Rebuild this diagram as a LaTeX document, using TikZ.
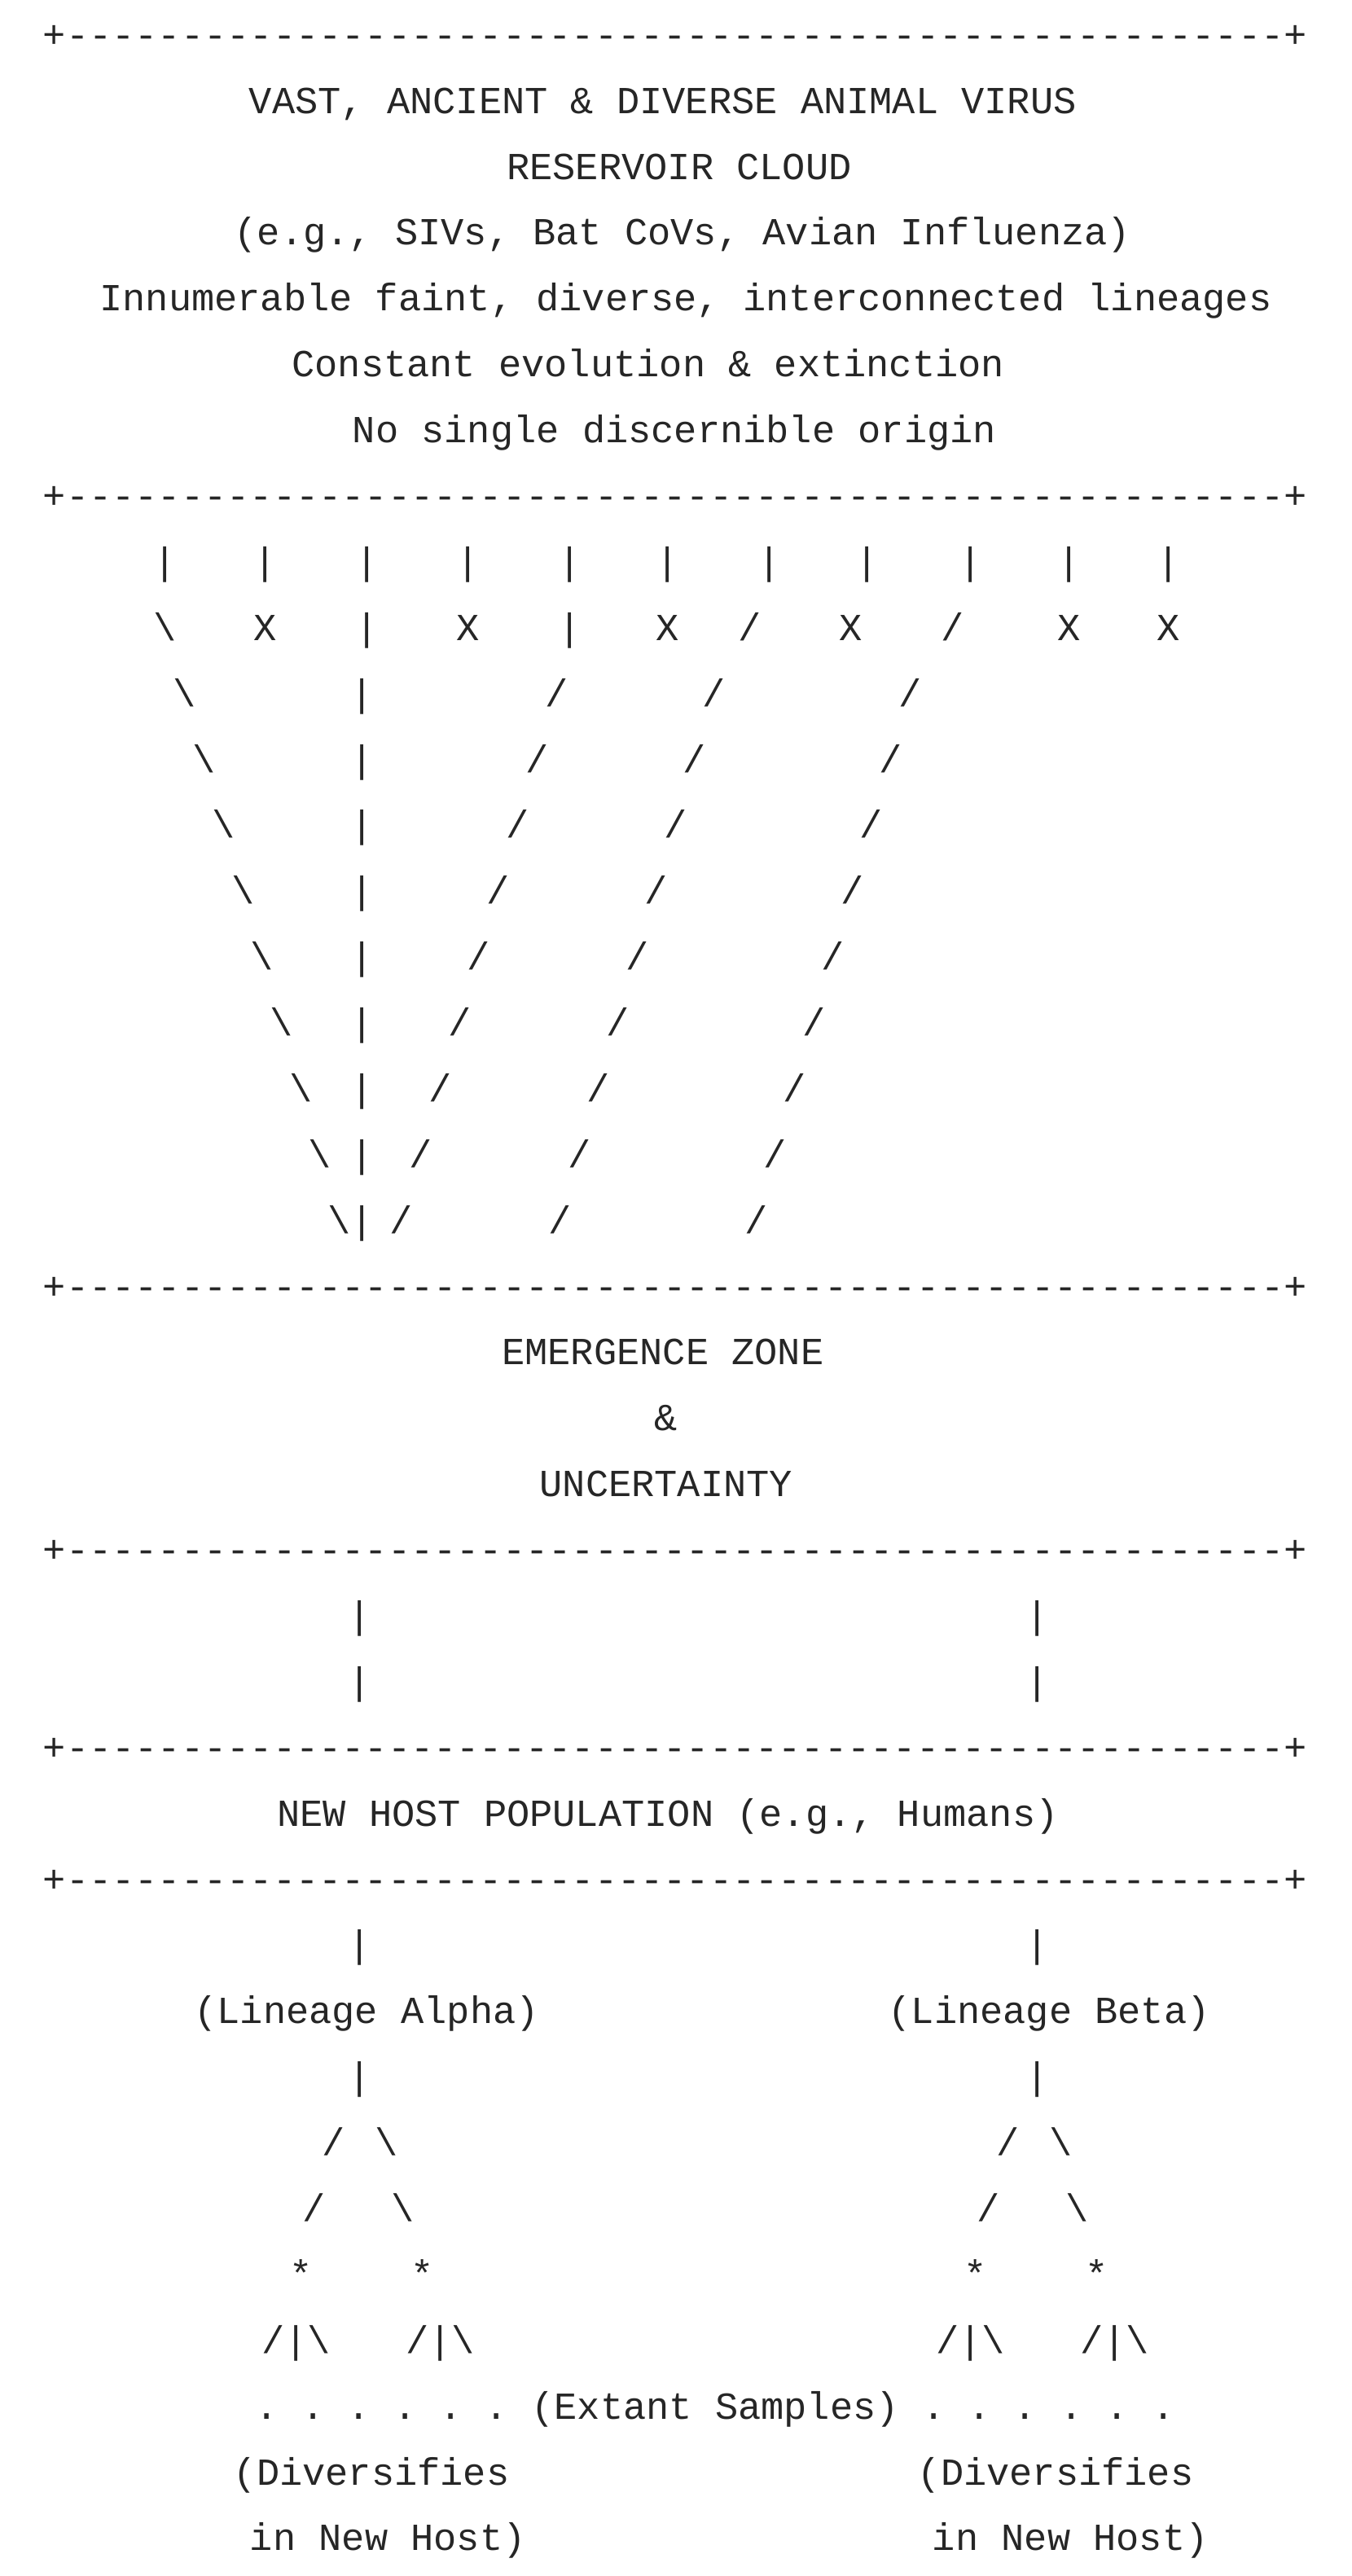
\documentclass[tikz,border=0pt]{standalone}
\usepackage{fontspec}
\newfontfamily\mono[Ligatures=TeXOff]{Liberation Mono}
\def\dashes{-----------------------------------------------------}
\tikzset{
  gl/.style={anchor=base,inner sep=0pt,outer sep=0pt,font=\mono\fontsize{23.4}{28}\selectfont\frenchspacing,text=black!85},
}
\newcommand\rowy[1]{{22+40.25*(#1)+7}}
\begin{document}
\begin{tikzpicture}[x=1pt,y=-1pt]
\useasboundingbox[fill=white] (0,0) rectangle (826,1574);
% borders
\foreach \r/\n in {0/b0,7/b1,19/b2,23/b3,26/b4,28/b5}
  \node[gl] (\n) at (412.5,\rowy{\r}) {+\dashes+};
% header texts
\node[gl] (t1) at (405,\rowy{1}) {VAST, ANCIENT \& DIVERSE ANIMAL VIRUS};
\node[gl] (t2) at (415,\rowy{2}) {RESERVOIR CLOUD};
\node[gl] (t3) at (417,\rowy{3}) {(e.g., SIVs, Bat CoVs, Avian Influenza)};
\node[gl] (t4) at (419,\rowy{4}) {Innumerable faint, diverse, interconnected lineages};
\node[gl] (t5) at (396,\rowy{5}) {Constant evolution \& extinction};
\node[gl] (t6) at (412,\rowy{6}) {No single discernible origin};
% row 8 pipes
\foreach \x in {101,162,224,286,348,408,470,530,593,653,714}
  \node[gl] at (\x,\rowy{8}) {|};
% row 9
\node[gl] at (101,\rowy{9}) {\textbackslash};
\foreach \x in {162,286,408,520,653,714}
  \node[gl] at (\x,\rowy{9}) {X};
\foreach \x in {224,348}
  \node[gl] at (\x,\rowy{9}) {|};
\foreach \x in {458,582}
  \node[gl] at (\x,\rowy{9}) {/};
% rows 10-18
\foreach \k in {0,...,8}{
  \node[gl] at ({113+11.8*\k},\rowy{10+\k}) {\textbackslash};
  \node[gl] at (221,\rowy{10+\k}) {|};
  \node[gl] at ({340-11.85*\k},\rowy{10+\k}) {/};
  \node[gl] at ({436-11.7*\k},\rowy{10+\k}) {/};
  \node[gl] at ({556-11.75*\k},\rowy{10+\k}) {/};
}
% emergence zone
\node[gl] (e1) at (405,\rowy{20}) {EMERGENCE ZONE};
\node[gl] (e2) at (407,\rowy{21}) {\&};
\node[gl] (e3) at (407,\rowy{22}) {UNCERTAINTY};
\foreach \r in {24,25,29,31}{
  \node[gl] at (220,\rowy{\r}) {|};
  \node[gl] at (634,\rowy{\r}) {|};
}
\node[gl] (nh) at (408,\rowy{27}) {NEW HOST POPULATION (e.g., Humans)};
\node[gl] (la) at (224,\rowy{30}) {(Lineage Alpha)};
\node[gl] (lb) at (641,\rowy{30}) {(Lineage Beta)};
% branches
\foreach \dx in {0,412}{
  \node[gl] at ({204+\dx},\rowy{32}) {/};
  \node[gl] at ({236+\dx},\rowy{32}) {\textbackslash};
  \node[gl] at ({192+\dx},\rowy{33}) {/};
  \node[gl] at ({246+\dx},\rowy{33}) {\textbackslash};
  \node[gl] at ({184+\dx},\rowy{34}) {*};
  \node[gl] at ({258+\dx},\rowy{34}) {*};
  \node[gl] at ({181+\dx},\rowy{35}) {/|\textbackslash};
  \node[gl] at ({269+\dx},\rowy{35}) {/|\textbackslash};
}
\node[gl] (ex) at (437,\rowy{36}) {. . . . . . (Extant Samples) . . . . . .};
\node[gl] (d1) at (227,\rowy{37}) {(Diversifies};
\node[gl] (d2) at (645,\rowy{37}) {(Diversifies};
\node[gl] (h1) at (237,\rowy{38}) {in New Host)};
\node[gl] (h2) at (654,\rowy{38}) {in New Host)};
\end{tikzpicture}
\end{document}
